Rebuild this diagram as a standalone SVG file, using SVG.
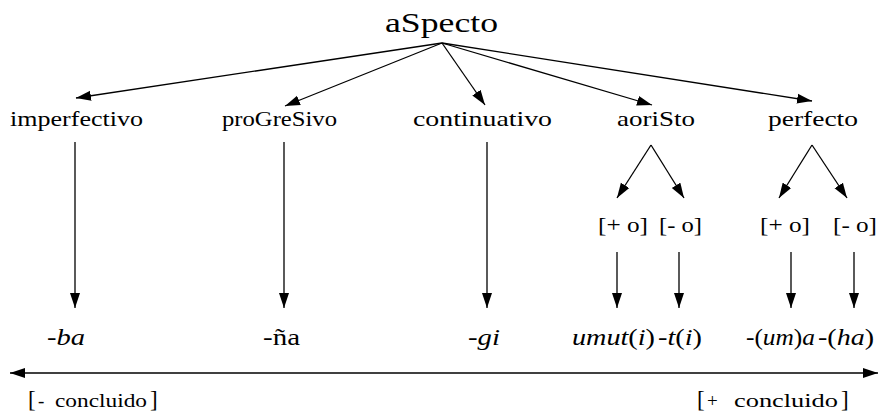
<svg xmlns="http://www.w3.org/2000/svg" width="879" height="414" viewBox="0 0 879 414">
<style>
.t{font-family:'Liberation Serif','DejaVu Serif','Times New Roman',serif;fill:#000}
.lbl{font-size:21px}
.sub{font-size:22px}
.mor{font-size:24px}
.i{font-style:italic}
.br{font-size:23px}
.cl{font-size:19px}
.c line{stroke:#000;stroke-width:1.3;fill:none}
.a{marker-end:url(#ah)}
</style>
<defs>
<marker id="ah" markerUnits="userSpaceOnUse" markerWidth="16" markerHeight="12" refX="15" refY="5" orient="auto-start-reverse" viewBox="0 0 16 10">
<path d="M0,0 L15,5 L0,10 z" fill="#000"/>
</marker>
</defs>
<rect width="879" height="414" fill="#fff"/>
<g class="t" font-family="Liberation Serif, DejaVu Serif, serif">
<g id="n-aspecto"><text x="385" y="32" font-size="28" textLength="113" lengthAdjust="spacingAndGlyphs">aSpecto</text></g>
<g id="n-imperfectivo"><text class="lbl" x="10" y="126" textLength="133" lengthAdjust="spacingAndGlyphs">imperfectivo</text></g>
<g id="n-progresivo"><text class="lbl" x="222" y="126" textLength="115" lengthAdjust="spacingAndGlyphs">proGreSivo</text></g>
<g id="n-continuativo"><text class="lbl" x="413" y="126" textLength="139" lengthAdjust="spacingAndGlyphs">continuativo</text></g>
<g id="n-aoristo"><text class="lbl" x="617" y="126" textLength="78" lengthAdjust="spacingAndGlyphs">aoriSto</text></g>
<g id="n-perfecto"><text class="lbl" x="768" y="126" textLength="90" lengthAdjust="spacingAndGlyphs">perfecto</text></g>
<g id="n-aor-plus"><text class="sub" x="598" y="232" textLength="50" lengthAdjust="spacingAndGlyphs">[+ o]</text></g>
<g id="n-aor-minus"><text class="sub" x="659" y="232" textLength="43" lengthAdjust="spacingAndGlyphs">[- o]</text></g>
<g id="n-perf-plus"><text class="sub" x="760" y="232" textLength="50" lengthAdjust="spacingAndGlyphs">[+ o]</text></g>
<g id="n-perf-minus"><text class="sub" x="833" y="232" textLength="44" lengthAdjust="spacingAndGlyphs">[- o]</text></g>
<g id="n-ba"><text class="mor" x="47" y="345" textLength="38" lengthAdjust="spacingAndGlyphs">-<tspan class="i">ba</tspan></text></g>
<g id="n-na"><text class="mor" x="263" y="345" textLength="37" lengthAdjust="spacingAndGlyphs">-ña</text></g>
<g id="n-gi"><text class="mor" x="468" y="345" textLength="32" lengthAdjust="spacingAndGlyphs">-<tspan class="i">gi</tspan></text></g>
<g id="n-umuti"><text class="mor" x="572" y="345" textLength="83" lengthAdjust="spacingAndGlyphs"><tspan class="i">umut</tspan>(<tspan class="i">i</tspan>)</text></g>
<g id="n-ti"><text class="mor" x="658" y="345" textLength="44" lengthAdjust="spacingAndGlyphs">-<tspan class="i">t</tspan>(<tspan class="i">i</tspan>)</text></g>
<g id="n-uma"><text class="mor" x="746" y="345" textLength="69" lengthAdjust="spacingAndGlyphs">-(<tspan class="i">um</tspan>)<tspan class="i">a</tspan></text></g>
<g id="n-ha"><text class="mor" x="818" y="345" textLength="56" lengthAdjust="spacingAndGlyphs">-(<tspan class="i">ha</tspan>)</text></g>
<g id="n-neg-concluido">
<text class="br" x="28" y="407">[</text>
<text class="cl" x="38" y="407">-</text>
<text class="cl" x="55" y="407" textLength="92" lengthAdjust="spacingAndGlyphs">concluido</text>
<text class="br" x="150" y="407">]</text>
</g>
<g id="n-pos-concluido">
<text class="br" x="697" y="407">[</text>
<text class="cl" x="707" y="407">+</text>
<text class="cl" x="734" y="407" textLength="104" lengthAdjust="spacingAndGlyphs">concluido</text>
<text class="br" x="841" y="407">]</text>
</g>
</g>
<g id="connectors" class="c">
<line class="a" x1="442" y1="43" x2="76" y2="98"/>
<line class="a" x1="442" y1="43" x2="285" y2="106"/>
<line class="a" x1="442" y1="43" x2="485" y2="105"/>
<line class="a" x1="442" y1="43" x2="652" y2="105"/>
<line class="a" x1="442" y1="43" x2="812" y2="101"/>
<line class="a" x1="75" y1="142" x2="75" y2="308"/>
<line class="a" x1="284" y1="142" x2="284" y2="308"/>
<line class="a" x1="487" y1="142" x2="487" y2="308"/>
<line class="a" x1="651" y1="145" x2="617" y2="198"/>
<line class="a" x1="651" y1="145" x2="684" y2="198"/>
<line class="a" x1="812" y1="145" x2="779" y2="198"/>
<line class="a" x1="812" y1="145" x2="847" y2="198"/>
<line class="a" x1="617" y1="252" x2="617" y2="308"/>
<line class="a" x1="679" y1="252" x2="679" y2="308"/>
<line class="a" x1="791" y1="252" x2="791" y2="308"/>
<line class="a" x1="854" y1="252" x2="854" y2="308"/>
<line x1="10" y1="373" x2="878" y2="373" marker-start="url(#ah)" marker-end="url(#ah)"/>
</g>
</svg>
